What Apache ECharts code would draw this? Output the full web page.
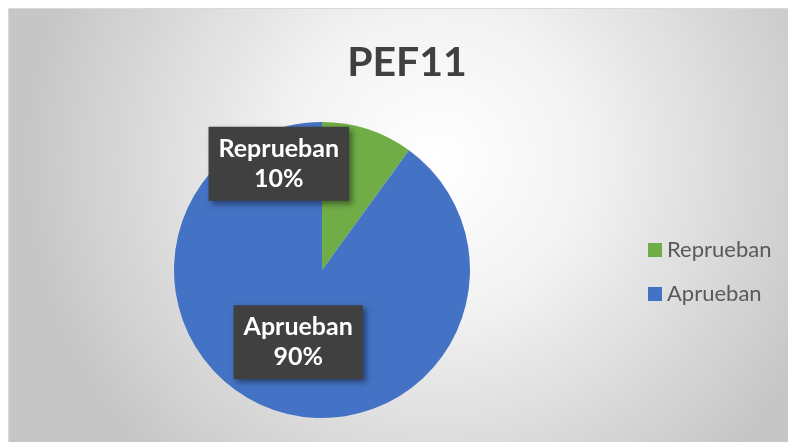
<!DOCTYPE html>
<html>
<head>
<meta charset="utf-8">
<script src="https://cdn.jsdelivr.net/npm/echarts@6/dist/echarts.min.js"></script>
<style>
html,body{margin:0;padding:0;background:#fff;}
#c{width:788px;height:442px;}
</style>
</head>
<body>
<div id="c"></div>
<script>
const titleText = 'PEF11';
const categories = ['Reprueban', 'Aprueban'];
const values = [10, 90];
const colors = ['#70ad47', '#4472c4'];
const labelShifts = [[-67, -33], [0, -1]];

const chart = echarts.init(document.getElementById('c'), null, {renderer: 'canvas'});
const option = {
  animation: false,
  graphic: [{
    type: 'rect', left: 8, top: 8, z: -10,
    shape: {width: 780, height: 434},
    style: {
      fill: new echarts.graphic.RadialGradient(0.55, 0.35, 0.95, [
        {offset: 0, color: '#ffffff'},
        {offset: 0.35, color: '#f3f3f3'},
        {offset: 1, color: '#c6c6c6'}
      ]),
      stroke: '#d9d9d9', lineWidth: 1
    }
  }],
  title: {
    text: titleText, left: 402, top: 37, textAlign: 'center',
    textStyle: {fontFamily: 'Lato', fontWeight: 'bold', fontSize: 41, color: '#404040'}
  },
  legend: {
    orient: 'vertical', left: 643, top: 234, itemGap: 22,
    icon: 'rect', itemWidth: 14, itemHeight: 14,
    data: categories,
    textStyle: {fontFamily: 'Lato', fontSize: 22, color: '#595959'}
  },
  series: [{
    type: 'pie',
    center: [322, 270], radius: [0, 148],
    startAngle: 90, clockwise: true,
    color: colors,
    labelLine: {show: false},
    label: {
      show: true, position: 'inside',
      formatter: '{b}\n{d}%',
      color: '#ffffff', fontFamily: 'Lato', fontWeight: 'bold',
      fontSize: 25, lineHeight: 30, align: 'center',
      backgroundColor: '#404040',
      padding: [7, 10, 7, 10],
      shadowBlur: 6, shadowOffsetX: 3, shadowOffsetY: 3, shadowColor: 'rgba(0,0,0,0.45)'
    },
    labelLayout: function (p) {
      const s = labelShifts[p.dataIndex];
      return {dx: s[0], dy: s[1]};
    },
    data: categories.map((n, i) => ({name: n, value: values[i]}))
  }]
};
chart.setOption(option);
</script>
</body>
</html>
